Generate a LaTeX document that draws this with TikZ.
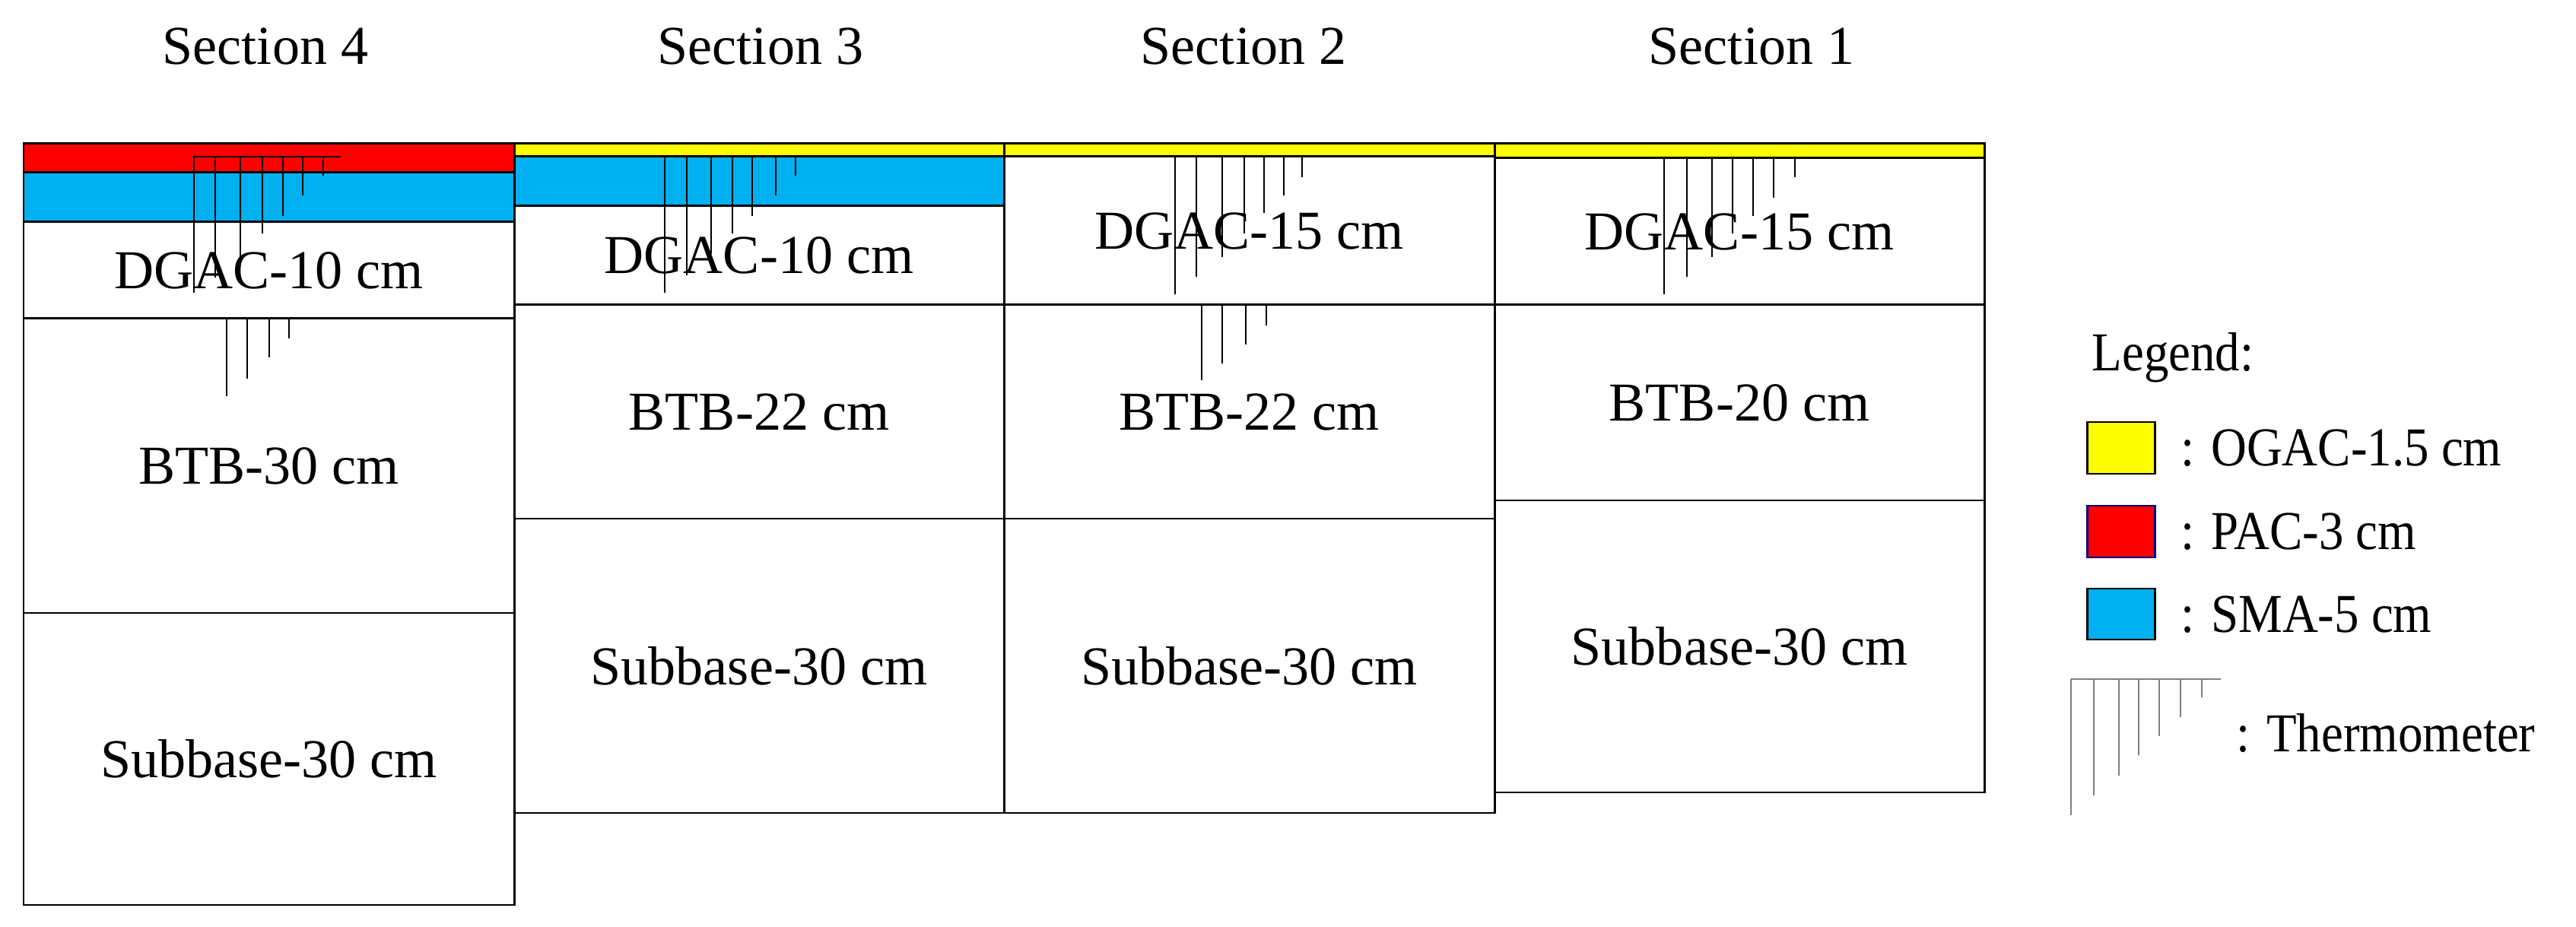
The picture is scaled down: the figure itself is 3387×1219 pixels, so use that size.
\documentclass[tikz,border=0pt]{standalone}
\usepackage{fontspec}
\setmainfont{Liberation Serif}
\tikzset{
  lay/.style={draw=black,line width=0.85pt},
  lbl/.style={font=\fontsize{20.5}{24}\selectfont,inner sep=0pt},
  leglbl/.style={lbl,anchor=west,xscale=0.9},
  therm/.style={draw=black,line width=0.7pt},
  legtherm/.style={draw=gray,line width=0.8pt},
}
\definecolor{ogac}{RGB}{255,255,0}
\definecolor{pac}{RGB}{255,0,0}
\definecolor{sma}{RGB}{0,176,240}
% \layer{name}{x1}{y1}{x2}{y2}{fill}{text}
\newcommand{\layer}[7]{%
  \path[lay,fill=#6] (#2,#3) rectangle (#4,#5);
  \node[lbl] (#1) at ({(#2+#4)/2},{(#3+#5)/2}) {#7};}
% \gauge{x/bottom list}{top}
\newcommand{\gauge}[2]{%
  \foreach \xx/\yy in {#1} {\draw[therm] (\xx,#2) -- (\xx,\yy);}}
\begin{document}
\begin{tikzpicture}[x=0.01cm,y=-0.01cm]
\useasboundingbox (0,0) rectangle (3387,1219);
% titles
\node[lbl] (t4) at (349,61) {Section 4};
\node[lbl] (t3) at (1000,61) {Section 3};
\node[lbl] (t2) at (1635,61) {Section 2};
\node[lbl] (t1) at (2303,61) {Section 1};
% Section 4
\layer{s4a}{31}{189}{676}{227}{pac}{}
\layer{s4b}{31}{227}{676}{292}{sma}{}
\layer{s4c}{31}{292}{676}{419}{white}{DGAC-10 cm}
\layer{s4d}{31}{419}{676}{806}{white}{BTB-30 cm}
\layer{s4e}{31}{806}{676}{1190}{white}{Subbase-30 cm}
% Section 3
\layer{s3a}{676}{189}{1320}{206}{ogac}{}
\layer{s3b}{676}{206}{1320}{271}{sma}{}
\layer{s3c}{676}{271}{1320}{401}{white}{DGAC-10 cm}
\layer{s3d}{676}{401}{1320}{682}{white}{BTB-22 cm}
\layer{s3e}{676}{682}{1320}{1069}{white}{Subbase-30 cm}
% Section 2
\layer{s2a}{1320}{189}{1965}{206}{ogac}{}
\layer{s2c}{1320}{206}{1965}{401}{white}{DGAC-15 cm}
\layer{s2d}{1320}{401}{1965}{682}{white}{BTB-22 cm}
\layer{s2e}{1320}{682}{1965}{1069}{white}{Subbase-30 cm}
% Section 1
\layer{s1a}{1965}{189}{2609}{208}{ogac}{}
\layer{s1c}{1965}{208}{2609}{401}{white}{DGAC-15 cm}
\layer{s1d}{1965}{401}{2609}{658}{white}{BTB-20 cm}
\layer{s1e}{1965}{658}{2609}{1042}{white}{Subbase-30 cm}
% thermometers
\draw[therm] (254,206) -- (448,206);
\gauge{255/385,283/365,316/338,345/307,372/284,398/257,425/231}{206}
\gauge{298/521,325/498,354/470,380/445}{420}
\draw[therm] (874,206) -- (1069,206);
\gauge{874/385,903/362,935/334,963/307,989/284,1020/257,1046/231}{206}
\gauge{1545/387,1573/364,1607/338,1636/307,1662/280,1688/257,1712/233}{206}
\draw[therm] (1580,400) -- (1689,400);
\gauge{1580/500,1607/478,1638/453,1665/428}{400}
\gauge{2188/387,2218/364,2251/338,2278/307,2305/284,2332/260,2360/233}{208}
% legend
\node[leglbl] (leg) at (2750,470) {Legend:};
\path[lay,fill=ogac] (2744,555) rectangle (2833,623);
\node[leglbl] (lo) at (2867,589) {: OGAC-1.5 cm};
\path[lay,draw=blue!50!black,fill=pac] (2744,665) rectangle (2833,733);
\node[leglbl] (lp) at (2867,699) {: PAC-3 cm};
\path[lay,fill=sma] (2744,774) rectangle (2833,841);
\node[leglbl] (ls) at (2867,808) {: SMA-5 cm};
\draw[legtherm] (2723,893) -- (2920,893);
\foreach \xx/\yy in {2723/1072,2753/1046,2786/1020,2812/993,2839/968,2867/943,2895/917}
  \draw[legtherm] (\xx,893) -- (\xx,\yy);
\node[leglbl] (lt) at (2940,964) {: Thermometer};
\end{tikzpicture}
\end{document}
